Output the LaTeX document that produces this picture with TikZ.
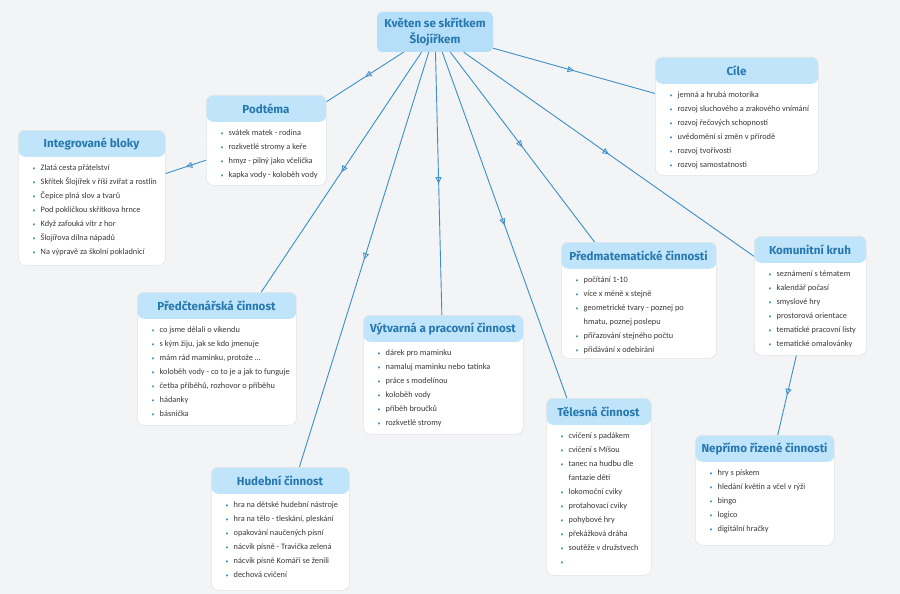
\documentclass[tikz,border=0pt]{standalone}
\usepackage{fontspec}
\setmainfont{Carlito}
\newfontfamily\titlefont{Fira Sans}
\usetikzlibrary{arrows.meta,decorations.markings}
\definecolor{bgc}{HTML}{F2F4F5}
\definecolor{hdr}{HTML}{C0E5FA}
\definecolor{cfill}{HTML}{B5DFF8}
\definecolor{ttl}{HTML}{2878B0}
\definecolor{lnc}{HTML}{3D8FC9}
\definecolor{itx}{HTML}{3A3A3A}
\definecolor{bul}{HTML}{4A8DC0}
\definecolor{brd}{HTML}{E0E4E7}
\newcommand\itm[1]{\makebox[8pt][l]{\textcolor{bul}{\scalebox{0.7}{\textbullet}}}#1}
\newcommand\cnt[1]{\hspace{8pt}#1}
\tikzset{
  card/.style={draw=brd, line width=0.6pt, fill=white, rounded corners=7pt, inner sep=0pt,
    path picture={\fill[hdr] (path picture bounding box.north west) rectangle ([yshift=-26.5pt]path picture bounding box.north east);}},
  ttlnode/.style={font=\titlefont\bfseries\fontsize{11.6}{13}\selectfont, text=ttl, inner sep=0pt},
  itemsnode/.style={font=\fontsize{8.3}{14}\selectfont, text=itx, inner sep=0pt, anchor=north west},
  cnode/.style={fill=cfill, rounded corners=5pt, minimum width=116pt, minimum height=40pt, inner sep=0pt,
    align=center, font=\titlefont\bfseries\fontsize{11.6}{16}\selectfont, text=ttl},
  conn/.style={draw=lnc, line width=0.9pt, postaction={decorate},
    decoration={markings, mark=at position 0.5 with {\arrow[lnc,line width=0.8pt]{Triangle[open,length=6.5pt,width=6pt]}}}}
}
% name, left, top, right, bottom, title, items
\newcommand\drawcard[7]{%
  \node[card, minimum width={#4-#2}, minimum height={#5-#3}, anchor=north west] (#1) at (#2,#3) {};
  \node[ttlnode] (#1-t) at ({(#2+#4)/2},#3+13.5) {#6};
  \node[itemsnode] (#1-i) at (#2+14.5,#3+30.2) {\begin{tabular}{@{}l@{}}#7\end{tabular}};
}
\begin{document}
\begin{tikzpicture}[x=1pt,y=-1pt]
\fill[bgc] (0,0) rectangle (900,594);
\useasboundingbox (0,0) rectangle (900,594);

\node[cnode] (c) at (435,32) {Květen se skřítkem\\Šlojířkem};

\drawcard{cile}{655}{57}{818}{175}{Cíle}{%
\itm{jemná a hrubá motorika}\\
\itm{rozvoj sluchového a zrakového vnímání}\\
\itm{rozvoj řečových schopností}\\
\itm{uvědomění si změn v přírodě}\\
\itm{rozvoj tvořivosti}\\
\itm{rozvoj samostatnosti}}

\drawcard{podt}{206}{95}{326}{185}{Podtéma}{%
\itm{svátek matek - rodina}\\
\itm{rozkvetlé stromy a keře}\\
\itm{hmyz - pilný jako včelička}\\
\itm{kapka vody - koloběh vody}}

\drawcard{integ}{18}{130}{165}{265}{Integrované bloky}{%
\itm{Zlatá cesta přátelství}\\
\itm{Skřítek Šlojířek v říši zvířat a rostlin}\\
\itm{Čepice plná slov a tvarů}\\
\itm{Pod pokličkou skřítkova hrnce}\\
\itm{Když zafouká vítr z hor}\\
\itm{Šlojířova dílna nápadů}\\
\itm{Na výpravě za školní pokladnicí}}

\drawcard{predct}{137}{292}{296}{425}{Předčtenářská činnost}{%
\itm{co jsme dělali o víkendu}\\
\itm{s kým žiju, jak se kdo jmenuje}\\
\itm{mám rád maminku, protože …}\\
\itm{koloběh vody - co to je a jak to funguje}\\
\itm{četba příběhů, rozhovor o příběhu}\\
\itm{hádanky}\\
\itm{básnička}}

\drawcard{vytv}{363}{315}{523}{434}{Výtvarná a pracovní činnost}{%
\itm{dárek pro maminku}\\
\itm{namaluj maminku nebo tatínka}\\
\itm{práce s modelínou}\\
\itm{koloběh vody}\\
\itm{příběh broučků}\\
\itm{rozkvetlé stromy}}

\drawcard{hud}{211}{467}{349}{590}{Hudební činnost}{%
\itm{hra na dětské hudební nástroje}\\
\itm{hra na tělo - tleskání, pleskání}\\
\itm{opakování naučených písní}\\
\itm{nácvik písně - Travička zelená}\\
\itm{nácvik písně Komáři se ženili}\\
\itm{dechová cvičení}}

\drawcard{tel}{546}{398}{651}{575}{Tělesná činnost}{%
\itm{cvičení s padákem}\\
\itm{cvičení s Míšou}\\
\itm{tanec na hudbu dle}\\
\cnt{fantazie dětí}\\
\itm{lokomoční cviky}\\
\itm{protahovací cviky}\\
\itm{pohybové hry}\\
\itm{překážková dráha}\\
\itm{soutěže v družstvech}\\
\itm{}}

\drawcard{predm}{561}{242}{716}{358}{Předmatematické činnosti}{%
\itm{počítání 1-10}\\
\itm{více x méně x stejně}\\
\itm{geometrické tvary - poznej po}\\
\cnt{hmatu, poznej poslepu}\\
\itm{přiřazování stejného počtu}\\
\itm{přidávání x odebírání}}

\drawcard{kom}{754}{236}{866}{355}{Komunitní kruh}{%
\itm{seznámení s tématem}\\
\itm{kalendář počasí}\\
\itm{smyslové hry}\\
\itm{prostorová orientace}\\
\itm{tematické pracovní listy}\\
\itm{tematické omalovánky}}

\drawcard{nepr}{695}{435}{834}{545}{Nepřímo řízené činnosti}{%
\itm{hry s pískem}\\
\itm{hledání květin a včel v rýži}\\
\itm{bingo}\\
\itm{logico}\\
\itm{digitální hračky}}

\draw[conn] (c) -- (podt);
\draw[conn] (podt) -- (integ);
\draw[conn] (c) -- (cile);
\draw[conn] (c) -- (predct);
\draw[conn] (c) -- (hud);
\draw[conn] (c) -- (vytv);
\draw[conn] (c) -- (tel);
\draw[conn] (c) -- (predm);
\draw[conn] (c) -- (kom);
\draw[conn] (kom) -- (nepr);
\end{tikzpicture}
\end{document}
